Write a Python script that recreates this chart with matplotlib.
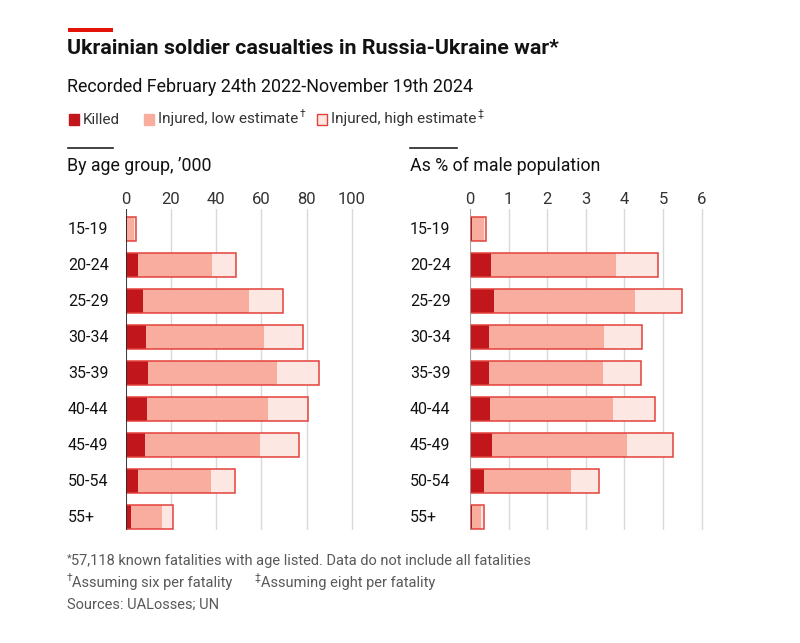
import numpy as np
import matplotlib.pyplot as plt
import matplotlib.transforms as mtransforms
from matplotlib.patches import Rectangle

plt.rcParams['font.family'] = ['Roboto', 'DejaVu Sans']

W, H = 800, 643

ages = ['15-19', '20-24', '25-29', '30-34', '35-39', '40-44', '45-49', '50-54', '55+']

# '000, bar end points
killed_k = [0.6, 5.3, 7.6, 9.0, 9.9, 9.3, 8.7, 5.3, 2.3]
low_k = [3.7, 38.0, 54.4, 61.2, 66.9, 63.0, 59.4, 37.9, 15.9]
high_k = [4.5, 48.9, 69.7, 78.4, 85.7, 80.8, 76.5, 48.5, 21.1]

# % of male population
killed_pct = [0.05, 0.54, 0.61, 0.48, 0.48, 0.53, 0.58, 0.36, 0.04]
low_pct = [0.35, 3.78, 4.27, 3.47, 3.45, 3.71, 4.08, 2.62, 0.29]
high_pct = [0.41, 4.88, 5.48, 4.46, 4.44, 4.79, 5.27, 3.35, 0.35]

red_dark = '#C0161C'
red_low = '#F9AD9F'
red_high = '#FDE7E2'
red_edge = '#E3413A'
grid_c = '#D9D9D9'
txt = '#121212'
grey = '#595959'


def fx(x):
    return x / W


def fy(y):
    return 1 - y / H


fig = plt.figure(figsize=(8, 6.43), dpi=100)


def panel(left_px, right_px, xmax, ticks, killed, low, high, spine_c, label_x):
    ax = fig.add_axes([fx(left_px), fy(529.6), fx(right_px - left_px), fy(209.2) - fy(529.6)])
    y = np.arange(len(ages))
    k = np.array(killed)
    lo = np.array(low)
    hi = np.array(high)
    h = 0.66
    ax.barh(y, hi - lo, left=lo, height=h, color=red_high, lw=0, zorder=2)
    ax.barh(y, lo - k, left=k, height=h, color=red_low, lw=0, zorder=2)
    ax.barh(y, k, height=h, color=red_dark, lw=0, zorder=3)
    ax.barh(y, hi, height=h, fill=False, edgecolor=red_edge, lw=1.1, zorder=4)
    ax.set_xlim(0, xmax)
    ax.set_ylim(8.35, -0.55)
    ax.set_xticks(ticks)
    ax.xaxis.tick_top()
    ax.tick_params(axis='x', length=0, pad=1.5, labelsize=12, labelcolor='#333333')
    ax.set_yticks([])
    for s in ax.spines.values():
        s.set_visible(False)
    ax.grid(axis='x', color=grid_c, lw=1, zorder=0)
    ax.axvline(0, color=spine_c, lw=1.2, zorder=5)
    tr = mtransforms.blended_transform_factory(fig.transFigure, ax.transData)
    for yi, a in zip(y, ages):
        ax.text(fx(label_x), yi, a, transform=tr, ha='left', va='center', fontsize=11.5, color=txt)
    return ax


panel(125.7, 125.7 + 2.26 * 105, 105, [0, 20, 40, 60, 80, 100],
      killed_k, low_k, high_k, '#222222', 68)
panel(470, 470 + 38.6 * 6.2, 6.2, [0, 1, 2, 3, 4, 5, 6],
      killed_pct, low_pct, high_pct, '#9A9A9A', 410)

# top red bar and header rules
fig.patches.append(Rectangle((fx(68), fy(32)), fx(45), fy(28) - fy(32), transform=fig.transFigure,
                             color='#E3120B', lw=0))
fig.add_artist(plt.Line2D([fx(68), fx(113)], [fy(148), fy(148)], color='#222222', lw=1.2))
fig.add_artist(plt.Line2D([fx(410), fx(457)], [fy(148), fy(148)], color='#222222', lw=1.2))

fig.text(fx(67), fy(49), 'Ukrainian soldier casualties in Russia-Ukraine war*',
         fontsize=15.4, fontweight='bold', color=txt, va='center')
fig.text(fx(67), fy(87), 'Recorded February 24th 2022-November 19th 2024',
         fontsize=12.9, color=txt, va='center')
fig.text(fx(67), fy(166), "By age group, \u2019000", fontsize=12.8, color=txt, va='center')
fig.text(fx(410), fy(166), 'As % of male population', fontsize=12.8, color=txt, va='center')

# legend
fig.canvas.draw()
rend = fig.canvas.get_renderer()
leg = [(68, red_dark, red_dark, 'Killed', ''),
       (143, red_low, red_low, 'Injured, low estimate', '\u2020'),
       (316, red_high, red_edge, 'Injured, high estimate', '\u2021')]
for x0, fc, ec, lab, sup in leg:
    fig.patches.append(Rectangle((fx(x0 + 0.5), fy(125)), fx(10), fy(114) - fy(125),
                                 transform=fig.transFigure, facecolor=fc, edgecolor=ec, lw=1))
    t = fig.text(fx(x0 + 15), fy(119.5), lab, fontsize=11, color='#333333', va='center')
    if sup:
        bb = t.get_window_extent(rend)
        fig.text(bb.x1 / W + fx(1), fy(114), sup, fontsize=7.5, color='#333333', va='center')

# footnotes
fig.text(fx(71), fy(561), '57,118 known fatalities with age listed. Data do not include all fatalities',
         fontsize=10.5, color=grey, va='center')
fig.text(fx(67), fy(558), '*', fontsize=8, color=grey, va='center')
fig.text(fx(67), fy(578), '\u2020', fontsize=7.5, color=grey, va='center')
fig.text(fx(72), fy(583), 'Assuming six per fatality', fontsize=10.5, color=grey, va='center')
fig.text(fx(255), fy(578), '\u2021', fontsize=7.5, color=grey, va='center')
fig.text(fx(261), fy(583), 'Assuming eight per fatality', fontsize=10.5, color=grey, va='center')
fig.text(fx(67), fy(605), 'Sources: UALosses; UN', fontsize=10.5, color=grey, va='center')

fig.savefig('out.png', dpi=100, facecolor='white')
